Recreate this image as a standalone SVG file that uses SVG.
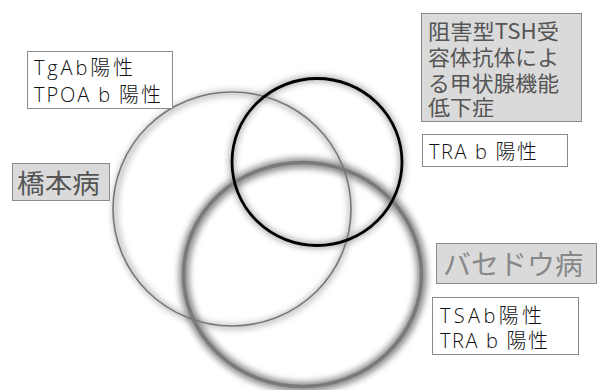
<svg xmlns="http://www.w3.org/2000/svg" width="598" height="390" viewBox="0 0 598 390">
<style>
  text { font-family: "Noto Sans CJK JP", "Liberation Sans", sans-serif; }
  .wbox { fill: #ffffff; stroke: #8a8a8a; stroke-width: 1; }
  .gbox { fill: #dadada; stroke: #8a8a8a; stroke-width: 1; }
  .t-black { fill: #111111; font-size: 20px; font-weight: 300; font-family: "Open Sans", "Noto Sans CJK JP", sans-serif; }
  .t-dark { fill: #555555; font-size: 21px; }
  .shadow { fill: none; filter: url(#blur); }
</style>
<defs>
  <filter id="blur" x="-20%" y="-20%" width="140%" height="140%">
    <feGaussianBlur stdDeviation="3"/>
  </filter>
</defs>
<rect width="598" height="390" fill="#ffffff"/>

<g id="connectors">
  <!-- Hashimoto circle -->
  <ellipse class="shadow" cx="233" cy="210" rx="118" ry="117" stroke="#9a9a9a" stroke-width="5" opacity="0.7"/>
  <ellipse cx="232" cy="209" rx="119" ry="117" fill="none" stroke="#777777" stroke-width="1.6"/>
  <!-- Basedow circle -->
  <ellipse class="shadow" cx="303" cy="275" rx="119" ry="112" stroke="#777777" stroke-width="10" opacity="0.85"/>
  <ellipse cx="302.5" cy="274.5" rx="119" ry="112" fill="none" stroke="#7a7a7a" stroke-width="3.5"/>
  <!-- Blocking antibody circle -->
  <ellipse class="shadow" cx="317" cy="162" rx="85" ry="83.5" stroke="#888888" stroke-width="6" opacity="0.7"/>
  <ellipse cx="317" cy="162" rx="85" ry="83.5" fill="none" stroke="#000000" stroke-width="2.8"/>
</g>

<g id="node-tgab">
  <rect class="wbox" x="27.5" y="51.5" width="145" height="57"/>
  <text class="t-black" x="34" y="75" textLength="99" lengthAdjust="spacing">TgAb陽性</text>
  <text class="t-black" x="34" y="102" textLength="127" lengthAdjust="spacing">TPOA b 陽性</text>
</g>

<g id="node-hashimoto">
  <rect class="gbox" x="12.5" y="163.5" width="97" height="37"/>
  <text x="17" y="193" fill="#555555" font-size="26" textLength="83" lengthAdjust="spacingAndGlyphs">橋本病</text>
</g>

<g id="node-blocking">
  <rect class="gbox" x="421.5" y="13.5" width="160" height="108"/>
  <text class="t-dark" x="428" y="39" textLength="131" lengthAdjust="spacingAndGlyphs">阻害型TSH受</text>
  <text class="t-dark" x="428" y="65" textLength="131" lengthAdjust="spacingAndGlyphs">容体抗体によ</text>
  <text class="t-dark" x="428" y="91" textLength="131" lengthAdjust="spacingAndGlyphs">る甲状腺機能</text>
  <text class="t-dark" x="428" y="115" textLength="66" lengthAdjust="spacingAndGlyphs">低下症</text>
</g>

<g id="node-trab">
  <rect class="wbox" x="422.5" y="134.5" width="145" height="32"/>
  <text class="t-black" x="429" y="159" textLength="108" lengthAdjust="spacing">TRA b 陽性</text>
</g>

<g id="node-basedow">
  <rect class="gbox" x="436.5" y="243.5" width="160" height="40" stroke="#a0a0a0"/>
  <text x="443" y="275" fill="#888888" font-size="28" textLength="140" lengthAdjust="spacingAndGlyphs">バセドウ病</text>
</g>

<g id="node-tsab">
  <rect class="wbox" x="432.5" y="297.5" width="146" height="57" stroke="#666666"/>
  <text class="t-black" x="440" y="323" textLength="102" lengthAdjust="spacing">TSAb陽性</text>
  <text class="t-black" x="440" y="348" textLength="108" lengthAdjust="spacing">TRA b 陽性</text>
</g>
</svg>
